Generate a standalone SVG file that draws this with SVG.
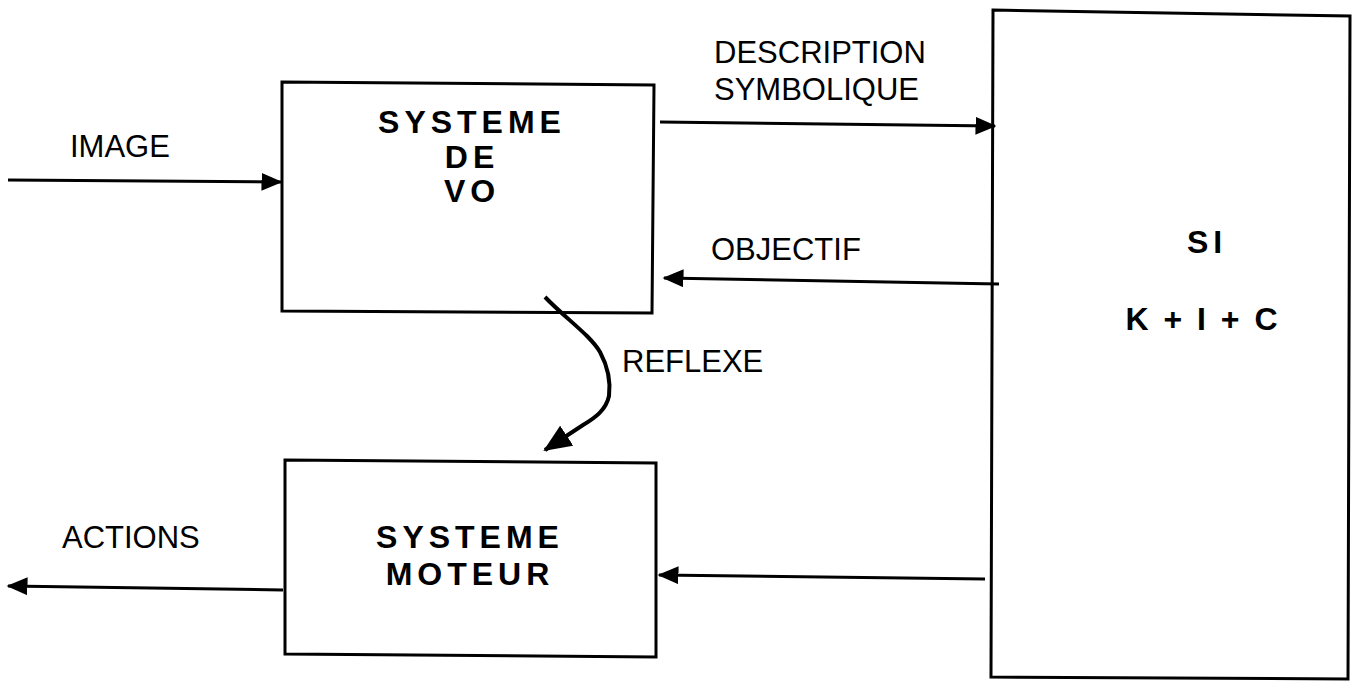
<svg xmlns="http://www.w3.org/2000/svg" width="1356" height="683" viewBox="0 0 1356 683">
<style>
.box{fill:none;stroke:#000;stroke-width:3}
.ln{fill:none;stroke:#000;stroke-width:3}
.lbl{font-family:"Liberation Sans",Arial,sans-serif;font-size:31px;fill:#000}
.bold{font-family:"Liberation Sans",Arial,sans-serif;font-size:32px;font-weight:bold;fill:#000;letter-spacing:5px;text-anchor:middle}
</style>
<defs>
<marker id="ah" markerWidth="7" markerHeight="6" refX="6.5" refY="3" orient="auto" markerUnits="strokeWidth">
<path d="M0,0 L7,3 L0,6 z" fill="#000"/>
</marker>
</defs>
<rect width="1356" height="683" fill="#fff"/>
<g id="vo">
<path class="box" d="M282,82 L654,85 L652,313 L282,311 Z"/>
<text class="bold" x="472" y="133">SYSTEME</text>
<text class="bold" x="472" y="168">DE</text>
<text class="bold" x="472" y="202">VO</text>
</g>
<g id="moteur">
<path class="box" d="M285,460 L656,463 L656,657 L285,654 Z"/>
<text class="bold" x="470" y="548">SYSTEME</text>
<text class="bold" x="470" y="585">MOTEUR</text>
</g>
<g id="si">
<path class="box" d="M993,10 L1350,16 L1348,679 L991,677 Z"/>
<text class="bold" x="1207" y="253">SI</text>
<text class="bold" x="1203" y="330" style="letter-spacing:3px">K + I + C</text>
</g>
<g id="connectors">
<line class="ln" x1="8" y1="180" x2="281" y2="182" marker-end="url(#ah)"/>
<line class="ln" x1="660" y1="122" x2="995" y2="126" marker-end="url(#ah)"/>
<line class="ln" x1="999" y1="284" x2="664" y2="278" marker-end="url(#ah)"/>
<line class="ln" x1="985" y1="579" x2="659" y2="575" marker-end="url(#ah)"/>
<line class="ln" x1="283" y1="590" x2="8" y2="586" marker-end="url(#ah)"/>
<path class="ln" style="stroke-width:4" d="M545,297 C565,318 590,335 600,352 C607,365 611,380 609,396 C606,410 595,418 583,425 L545,450" marker-end="url(#ah)"/>
</g>
<g id="labels">
<text class="lbl" x="70" y="157">IMAGE</text>
<text class="lbl" x="714" y="63">DESCRIPTION</text>
<text class="lbl" x="714" y="100">SYMBOLIQUE</text>
<text class="lbl" x="711" y="260">OBJECTIF</text>
<text class="lbl" x="622" y="372">REFLEXE</text>
<text class="lbl" x="62" y="548">ACTIONS</text>
</g>
</svg>
